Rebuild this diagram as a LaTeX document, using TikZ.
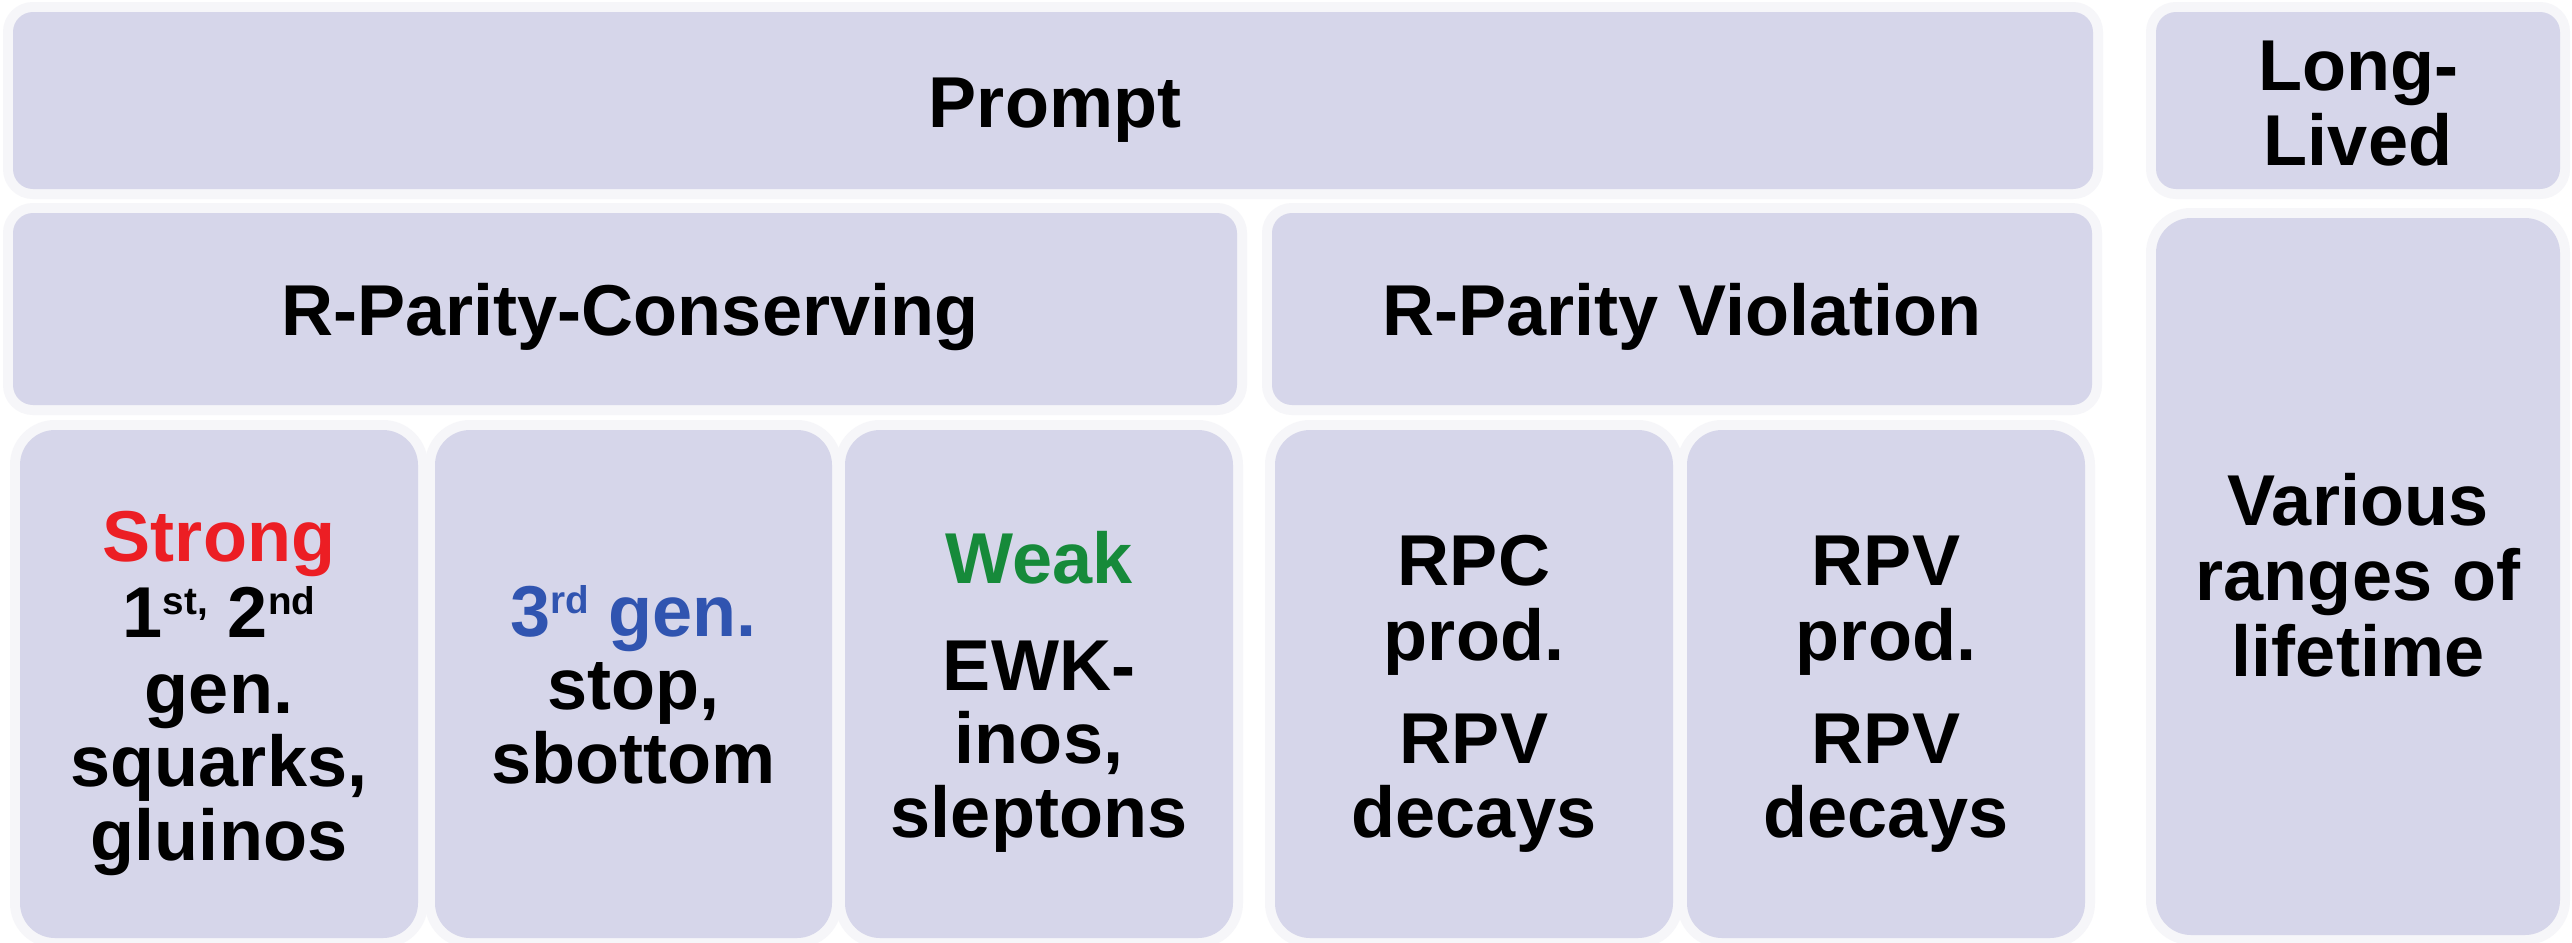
\documentclass[tikz,border=0pt]{standalone}
\usepackage{fontspec}
\setmainfont{Liberation Sans}
\definecolor{boxfill}{RGB}{214,214,234}
\definecolor{halo}{RGB}{246,246,249}
\definecolor{strongred}{RGB}{236,30,36}
\definecolor{genblue}{RGB}{48,84,176}
\definecolor{weakgreen}{RGB}{22,138,58}
\tikzset{
  panel/.style={fill=boxfill, draw=none, rounded corners=2mm, inner sep=0pt,
    preaction={draw=halo, line width=2mm}},
  tallpanel/.style={panel, rounded corners=3.5mm},
  txt/.style={anchor=base, inner sep=0pt, font=\bfseries\fontsize{20.5pt}{21pt}\selectfont},
}
\newcommand\supx[1]{\raisebox{6.3pt}{\fontsize{11pt}{11pt}\selectfont #1}}
\begin{document}
\begin{tikzpicture}[x=0.1mm, y=-0.1mm]
\useasboundingbox (0,0) rectangle (2572,942);
\fill[white] (0,0) rectangle (2572,942);
% panels
\node[panel, minimum width=208mm, minimum height=17.7mm] (prompt) at (1053,100.5) {};
\node[panel, minimum width=40.4mm, minimum height=17.7mm] (longlived) at (2358,100.5) {};
\node[panel, minimum width=122.4mm, minimum height=19.2mm] (rpcons) at (625,309) {};
\node[panel, minimum width=82mm, minimum height=19.2mm] (rpviol) at (1682,309) {};
\node[tallpanel, minimum width=39.8mm, minimum height=50.8mm] (strong) at (219,684) {};
\node[tallpanel, minimum width=39.7mm, minimum height=50.8mm] (third) at (633.5,684) {};
\node[tallpanel, minimum width=38.8mm, minimum height=50.8mm] (weak) at (1039,684) {};
\node[tallpanel, minimum width=39.8mm, minimum height=50.8mm] (rpc) at (1474,684) {};
\node[tallpanel, minimum width=39.8mm, minimum height=50.8mm] (rpv) at (1886,684) {};
\node[tallpanel, minimum width=40.4mm, minimum height=71.7mm] (various) at (2358,576.5) {};
% texts
\node[txt] (promptT) at (1055,127) {Prompt};
\node[txt] (llA) at (2358,90) {Long-};
\node[txt] (llB) at (2358,165) {Lived};
\node[txt] (rpconsT) at (630,335) {R-Parity-Conserving};
\node[txt] (rpviolT) at (1682,335) {R-Parity Violation};
\node[txt, text=strongred] (stA) at (219,561) {Strong};
\node[txt] (stB) at (219,637) {1\supx{st,} 2\supx{nd}};
\node[txt] (stC) at (219,713) {gen.};
\node[txt] (stD) at (219,786) {squarks,};
\node[txt] (stE) at (219,860) {gluinos};
\node[txt, text=genblue] (thA) at (633.5,636) {3\supx{rd} gen.};
\node[txt] (thB) at (633.5,709) {stop,};
\node[txt] (thC) at (633.5,783) {sbottom};
\node[txt, text=weakgreen] (wkA) at (1039,583) {Weak};
\node[txt] (wkB) at (1039,690) {EWK-};
\node[txt] (wkC) at (1039,763) {inos,};
\node[txt] (wkD) at (1039,837) {sleptons};
\node[txt] (rpcA) at (1474,585) {RPC};
\node[txt] (rpcB) at (1474,660) {prod.};
\node[txt] (rpcC) at (1474,763) {RPV};
\node[txt] (rpcD) at (1474,837) {decays};
\node[txt] (rpvA) at (1886,585) {RPV};
\node[txt] (rpvB) at (1886,660) {prod.};
\node[txt] (rpvC) at (1886,763) {RPV};
\node[txt] (rpvD) at (1886,837) {decays};
\node[txt] (vaA) at (2358,525) {Various};
\node[txt] (vaB) at (2358,600) {ranges of};
\node[txt] (vaC) at (2358,676) {lifetime};
\end{tikzpicture}
\end{document}
